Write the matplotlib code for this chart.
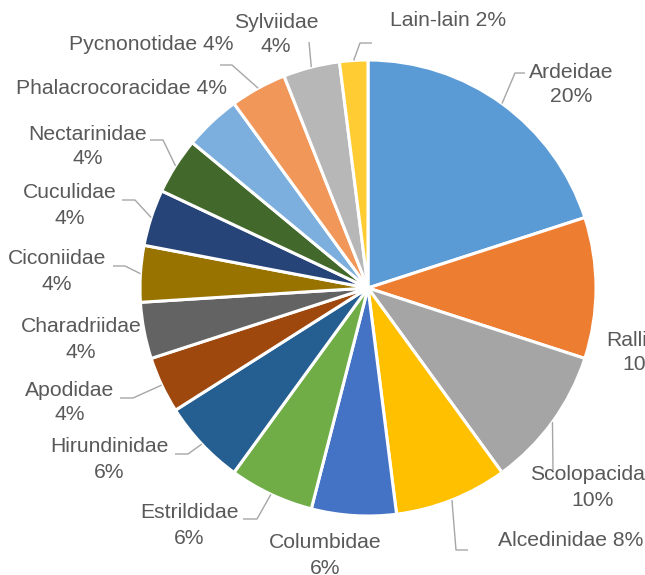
import matplotlib
matplotlib.use("Agg")
import matplotlib.pyplot as plt
import numpy as np

categories = ["Ardeidae", "Rallidae", "Scolopacidae", "Alcedinidae", "Columbidae",
              "Estrildidae", "Hirundinidae", "Apodidae", "Charadriidae", "Ciconiidae",
              "Cuculidae", "Nectarinidae", "Phalacrocoracidae", "Pycnonotidae",
              "Sylviidae", "Lain-lain"]
values = [20, 10, 10, 8, 6, 6, 6, 4, 4, 4, 4, 4, 4, 4, 4, 2]
colors = ["#5B9BD5", "#ED7D31", "#A5A5A5", "#FFC000", "#4472C4", "#70AD47",
          "#255E91", "#9E480E", "#636363", "#997300", "#264478", "#43682B",
          "#7CAFDD", "#F1975A", "#B7B7B7", "#FFCD33"]

W, H = 645, 575
CX, CY, R = 368, 288, 228  # pixel layout

# label layout: (x_center, y_center of first line, single_line?) in pixels
label_pos = {
    "Ardeidae": (571, 72, False),
    "Rallidae": (644, 340, False),
    "Scolopacidae": (593, 475, False),
    "Alcedinidae": (571, 540, True),
    "Columbidae": (325, 543, False),
    "Estrildidae": (189, 513, False),
    "Hirundinidae": (109, 447, False),
    "Apodidae": (70, 390, False),
    "Charadriidae": (81, 327, False),
    "Ciconiidae": (57, 259, False),
    "Cuculidae": (70, 193, False),
    "Nectarinidae": (88, 134, False),
    "Phalacrocoracidae": (122, 89, True),
    "Pycnonotidae": (151, 45, True),
    "Sylviidae": (276, 22, False),
    "Lain-lain": (448, 21, True),
}
# leader line waypoints after the wedge-edge start (pixels)
leaders = {
    "Ardeidae": [(515, 73), (525, 73)],
    "Scolopacidae": [(553, 470)],
    "Alcedinidae": [(456, 550), (468, 550)],
    "Estrildidae": [(257, 519), (243, 519)],
    "Hirundinidae": [(188, 454), (175, 454)],
    "Apodidae": [(133, 398), (120, 398)],
    "Ciconiidae": [(125, 266), (113, 266)],
    "Cuculidae": [(135, 200), (122, 200)],
    "Nectarinidae": [(163, 140), (150, 140)],
    "Pycnonotidae": [(232, 65), (220, 65)],
    "Sylviidae": [(309, 42)],
    "Lain-lain": [(360, 43), (372, 43)],
}

plt.rcParams["font.family"] = ["Liberation Sans", "DejaVu Sans"]
fig = plt.figure(figsize=(W / 100, H / 100), dpi=100)
ax = fig.add_axes([0, 0, 1, 1])

def fy(y):
    return H - y

wedges, _ = ax.pie(values, colors=colors, startangle=90, counterclock=False,
                   center=(CX, fy(CY)), radius=R,
                   wedgeprops=dict(edgecolor="white", linewidth=2.2),
                   frame=True)
ax.set_xlim(0, W)
ax.set_ylim(0, H)
ax.set_aspect("equal")
ax.axis("off")

txt_color = "#595959"
fs = 15.2
line_h = 25
for w, cat, v in zip(wedges, categories, values):
    x, y, single = label_pos[cat]
    if single:
        ax.text(x, fy(y), f"{cat} {v}%", ha="center", va="center",
                fontsize=fs, color=txt_color)
    else:
        ax.text(x, fy(y), cat, ha="center", va="center", fontsize=fs, color=txt_color)
        ax.text(x, fy(y + line_h), f"{v}%", ha="center", va="center",
                fontsize=fs, color=txt_color)
    if cat in leaders:
        mid = np.deg2rad((w.theta1 + w.theta2) / 2)
        sx = CX + R * np.cos(mid)
        sy = fy(CY) + R * np.sin(mid)
        pts = [(sx, sy)] + [(px, fy(py)) for px, py in leaders[cat]]
        xs, ys = zip(*pts)
        ax.plot(xs, ys, color="#A6A6A6", linewidth=1.0, solid_capstyle="butt")

fig.savefig("out.png", dpi=100)
